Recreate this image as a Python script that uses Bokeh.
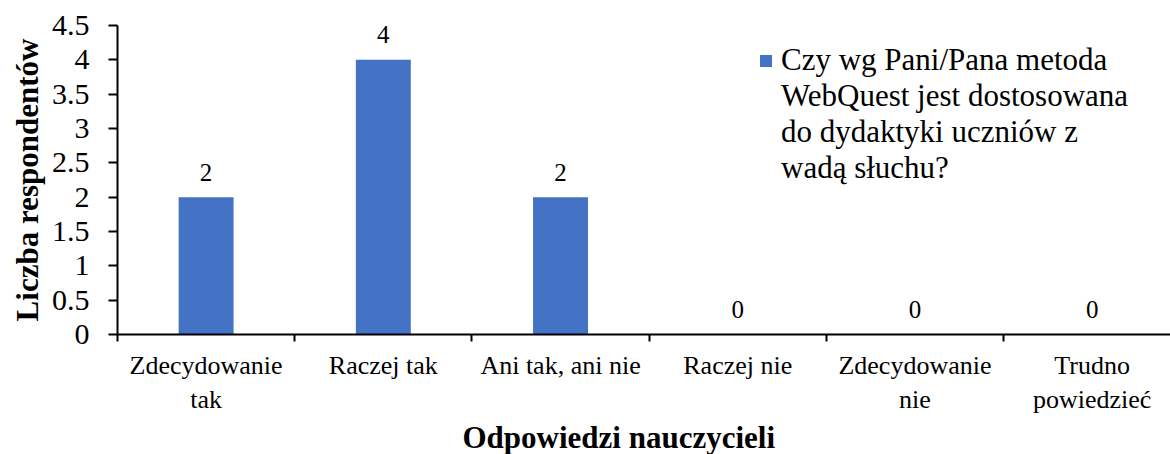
from bokeh.plotting import figure
from bokeh.models import (ColumnDataSource, Range1d, FixedTicker, NumeralTickFormatter,
                          Legend, LegendItem, Title)
from bokeh.core.properties import value
from bokeh.embed import file_html
from bokeh.resources import INLINE

categories = ["Zdecydowanie\ntak", "Raczej tak", "Ani tak, ani nie", "Raczej nie",
              "Zdecydowanie\nnie", "Trudno\npowiedzieć"]
counts = [2, 4, 2, 0, 0, 0]
series_name_lines = ["Czy wg Pani/Pana metoda", "WebQuest jest dostosowana",
                     "do dydaktyki uczniów z", "wadą słuchu?"]
y_ticks = [0, 0.5, 1, 1.5, 2, 2.5, 3, 3.5, 4, 4.5]
x_title = "Odpowiedzi nauczycieli"
y_title = "Liczba respondentów"

FONT = "Liberation Serif"
BLUE = "#4472C4"

centers = [i + 0.5 for i in range(len(categories))]
source = ColumnDataSource(dict(x=centers, y=counts, label=[str(c) for c in counts]))

p = figure(width=1170, height=454, output_backend="svg", toolbar_location=None,
           x_range=Range1d(0, 5.942), y_range=Range1d(0, 4.5),
           min_border_left=117, min_border_right=0, min_border_top=25, min_border_bottom=120)
p.outline_line_color = None
p.grid.visible = False
p.background_fill_color = "white"
p.border_fill_color = "white"

bars = p.vbar(x="x", top="y", width=0.31, source=source, fill_color=BLUE, line_color=None)
# invisible renderer used only for the continuation lines of the legend label
blank = p.vbar(x=[], top=[], width=0.31, fill_alpha=0, line_alpha=0)
p.text(x="x", y="y", text="label", source=source, text_font=value(FONT),
       text_font_size="25px", text_align="center", text_baseline="alphabetic",
       y_offset=-25, text_color="black")

# x axis
xa = p.xaxis[0]
xa.ticker = FixedTicker(ticks=centers, minor_ticks=list(range(len(categories) + 1)))
xa.major_label_overrides = {c: lab for c, lab in zip(centers, categories)}
xa.major_tick_out = 0
xa.major_tick_in = 0
xa.minor_tick_out = 7
xa.minor_tick_in = 0
xa.minor_tick_line_color = "black"
xa.minor_tick_line_width = 2
xa.axis_line_color = "black"
xa.axis_line_width = 2
xa.major_label_text_font = FONT
xa.major_label_text_font_size = "26px"
xa.major_label_text_color = "black"
xa.major_label_standoff = 9

# y axis
ya = p.yaxis[0]
ya.ticker = FixedTicker(ticks=y_ticks)
ya.formatter = NumeralTickFormatter(format="0.[0]")
ya.major_tick_out = 9
ya.major_tick_in = 0
ya.minor_tick_out = 0
ya.minor_tick_in = 0
ya.major_tick_line_color = "black"
ya.major_tick_line_width = 2
ya.axis_line_color = "black"
ya.axis_line_width = 2
ya.major_label_text_font = FONT
ya.major_label_text_font_size = "30px"
ya.major_label_text_color = "black"
ya.major_label_standoff = 19
ya.axis_label = y_title
ya.axis_label_text_font = FONT
ya.axis_label_text_font_size = "31px"
ya.axis_label_text_font_style = "bold"
ya.axis_label_text_color = "black"
ya.axis_label_standoff = 4

xt = Title(text=x_title, align="left", offset=345, text_font=FONT, text_font_size="31px",
           text_font_style="bold", text_color="black", standoff=0)
p.add_layout(xt, "below")

items = [LegendItem(label=series_name_lines[0], renderers=[bars])]
items += [LegendItem(label=t, renderers=[blank]) for t in series_name_lines[1:]]
legend = Legend(items=items, location=(641, 148), orientation="vertical",
                label_text_font=FONT, label_text_font_size="31px", label_text_color="black",
                label_height=35, spacing=0,
                glyph_width=15, glyph_height=15, label_standoff=8,
                padding=0, margin=0, border_line_color=None, background_fill_alpha=0)
p.add_layout(legend)

open("out.html", "w").write(file_html(p, INLINE))
